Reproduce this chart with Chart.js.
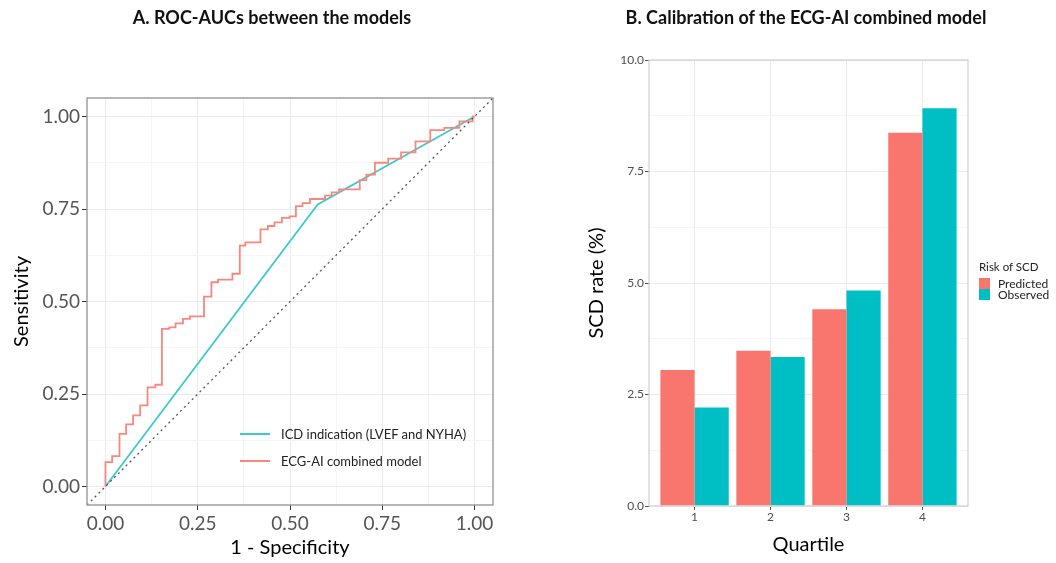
<!DOCTYPE html>
<html>
<head>
<meta charset="utf-8">
<script src="https://cdn.jsdelivr.net/npm/chart.js@4.4.1/dist/chart.umd.min.js"></script>
<style>
  body { margin: 0; background: #fff; font-family: Lato, sans-serif; }
  #wrap { position: relative; width: 1056px; height: 563px; overflow: hidden; }
  canvas { position: absolute; top: 0; }
  #rocCanvas { left: 0; }
  #calCanvas { left: 560px; }
  .title { position: absolute; top: 6px; font-weight: bold; font-size: 18px; color: #111; white-space: nowrap; transform: translateX(-50%); }
  .leg { position: absolute; font-size: 13px; color: #222; white-space: nowrap; }
  .leg .row { display: flex; align-items: center; }
  .leg .line { width: 30px; height: 0; border-top: 2px solid; margin-right: 11px; }
  .leg .box { width: 11px; height: 11px; margin-right: 8px; }
</style>
</head>
<body>
<div id="wrap">
  <canvas id="rocCanvas" width="520" height="563"></canvas>
  <canvas id="calCanvas" width="496" height="563"></canvas>
  <div class="title" style="left:272px">A. ROC-AUCs between the models</div>
  <div class="title" style="left:806px">B. Calibration of the ECG-AI combined model</div>

  <div class="leg" style="left:240px; top:420px">
    <div class="row" style="height:27px"><span class="line" style="border-color:#3fc9cc"></span>ICD indication (LVEF and NYHA)</div>
    <div class="row" style="height:27px"><span class="line" style="border-color:#f8877e"></span>ECG-AI combined model</div>
  </div>

  <div class="leg" style="left:979px; top:260px; font-size:12px">
    <div style="font-size:11.5px; margin-bottom:5px">Risk of SCD</div>
    <div class="row" style="height:11px"><span class="box" style="background:#f8766d"></span>Predicted</div>
    <div class="row" style="height:11px"><span class="box" style="background:#00bfc4"></span>Observed</div>
  </div>
</div>

<script>
// ROC data
const ecgFpr = [0, 0.018, 0.038, 0.056, 0.075, 0.094, 0.114, 0.135, 0.153, 0.173, 0.190, 0.210, 0.229, 0.267,
  0.287, 0.305, 0.344, 0.364, 0.379, 0.420, 0.440, 0.458, 0.478, 0.499, 0.516, 0.534, 0.554, 0.595, 0.613,
  0.633, 0.689, 0.707, 0.730, 0.766, 0.801, 0.840, 0.880, 0.918, 0.959, 0.995, 1.0];
const ecgTpr = [0, 0.066, 0.082, 0.142, 0.168, 0.192, 0.219, 0.268, 0.275, 0.426, 0.430, 0.441, 0.453, 0.460,
  0.513, 0.552, 0.559, 0.575, 0.651, 0.660, 0.695, 0.704, 0.714, 0.726, 0.730, 0.758, 0.766, 0.777, 0.786,
  0.795, 0.803, 0.828, 0.843, 0.875, 0.886, 0.903, 0.933, 0.963, 0.969, 0.987, 1.0];
const icdFpr = [0, 0.575, 1.0];
const icdTpr = [0, 0.762, 1.0];
const diagPts = [-0.05, 1.05];
const rocTicks = [0, 0.25, 0.5, 0.75, 1];

// Calibration data
const quartiles = [1, 2, 3, 4];
const predicted = [3.05, 3.48, 4.41, 8.37];
const observed = [2.21, 3.34, 4.83, 8.92];
const calTicks = [0, 2.5, 5, 7.5, 10];

const zip = (xs, ys) => xs.map((x, i) => ({ x, y: ys[i] }));
const isMajor = (v, step) => Math.abs(v / step - Math.round(v / step)) < 1e-6;

// panel border around the plotting area
const panelBorder = {
  id: 'panelBorder',
  afterDatasetsDraw(chart, args, opts) {
    const { ctx, chartArea: a } = chart;
    ctx.save();
    ctx.strokeStyle = opts.color;
    ctx.lineWidth = opts.width;
    ctx.strokeRect(a.left, a.top, a.right - a.left, a.bottom - a.top);
    ctx.restore();
  }
};

const rocMinor = [];
for (let v = 0; v <= 1.0001; v += 0.125) rocMinor.push(+v.toFixed(3));

function rocScale(title, size, titlePad) {
  return {
    type: 'linear',
    min: -0.05,
    max: 1.05,
    afterBuildTicks: s => { s.ticks = rocMinor.map(v => ({ value: v })); },
    afterFit: s => { if (s.isHorizontal()) s.height = size; else s.width = size; },
    grid: {
      color: c => isMajor(c.tick.value, 0.25) ? '#ebebeb' : '#f5f5f5',
      tickColor: c => isMajor(c.tick.value, 0.25) ? '#333' : 'rgba(0,0,0,0)',
      tickLength: 5,
      lineWidth: 1
    },
    border: { display: false },
    ticks: {
      autoSkip: false,
      maxRotation: 0,
      color: '#555',
      font: { family: 'Lato', size: 19 },
      padding: 2,
      callback: v => isMajor(v, 0.25) ? v.toFixed(2) : ''
    },
    title: { display: true, text: title, color: '#000', font: { family: 'Lato', size: 20 }, padding: titlePad }
  };
}

new Chart(document.getElementById('rocCanvas'), {
  type: 'line',
  data: {
    datasets: [
      { label: 'diag', data: zip(diagPts, diagPts), borderColor: '#555', borderWidth: 1.3, borderDash: [2, 3.5], pointRadius: 0 },
      // 'after' in Chart.js goes vertical first, then horizontal
      { label: 'ECG-AI combined model', data: zip(ecgFpr, ecgTpr), stepped: 'after', borderColor: '#f8877e', borderWidth: 1.8, pointRadius: 0 },
      { label: 'ICD indication (LVEF and NYHA)', data: zip(icdFpr, icdTpr), borderColor: '#3fc9cc', borderWidth: 1.8, pointRadius: 0 }
    ]
  },
  options: {
    responsive: false,
    animation: false,
    layout: { padding: { top: 98, right: 27, bottom: 0, left: 0 } },
    plugins: {
      legend: { display: false },
      tooltip: { enabled: false },
      panelBorder: { color: '#999', width: 1.4 }
    },
    scales: {
      x: rocScale('1 - Specificity', 58, { top: 0, bottom: 3 }),
      y: rocScale('Sensitivity', 87, { top: 10, bottom: 0 })
    }
  },
  plugins: [panelBorder]
});

const calMinor = [];
for (let v = 0; v <= 10.0001; v += 1.25) calMinor.push(+v.toFixed(2));

new Chart(document.getElementById('calCanvas'), {
  type: 'bar',
  data: {
    datasets: [
      { label: 'Predicted', data: zip(quartiles, predicted), backgroundColor: '#f8766d' },
      { label: 'Observed', data: zip(quartiles, observed), backgroundColor: '#00bfc4' }
    ]
  },
  options: {
    responsive: false,
    animation: false,
    categoryPercentage: 0.9,
    barPercentage: 1.0,
    layout: { padding: { top: 60, right: 88, bottom: 0, left: 0 } },
    plugins: {
      legend: { display: false },
      tooltip: { enabled: false },
      panelBorder: { color: '#cfcfcf', width: 1.2 }
    },
    scales: {
      x: {
        type: 'linear',
        min: 0.4,
        max: 4.6,
        offset: false,
        afterBuildTicks: s => { s.ticks = quartiles.map(v => ({ value: v })); },
        afterFit: s => { s.height = 57; },
        grid: { offset: false, color: '#ebebeb', tickColor: '#555', tickLength: 4 },
        border: { display: false },
        ticks: { color: '#4d4d4d', font: { family: 'Lato', size: 12 }, padding: 0, maxRotation: 0 },
        title: { display: true, text: 'Quartile', color: '#000', font: { family: 'Lato', size: 20 }, padding: { top: 0, bottom: 6 } }
      },
      y: {
        min: 0,
        max: 10,
        afterBuildTicks: s => { s.ticks = calMinor.map(v => ({ value: v })); },
        afterFit: s => { s.width = 89; },
        grid: {
          color: c => isMajor(c.tick.value, 2.5) ? '#ebebeb' : '#f5f5f5',
          tickColor: c => isMajor(c.tick.value, 2.5) ? '#555' : 'rgba(0,0,0,0)',
          tickLength: 4
        },
        border: { display: false },
        ticks: {
          autoSkip: false,
          color: '#4d4d4d',
          font: { family: 'Lato', size: 12 },
          padding: 1,
          callback: v => isMajor(v, 2.5) ? v.toFixed(1) : ''
        },
        title: { display: true, text: 'SCD rate (%)', color: '#000', font: { family: 'Lato', size: 20 }, padding: { top: 25, bottom: 0 } }
      }
    }
  },
  plugins: [panelBorder]
});
</script>
</body>
</html>
